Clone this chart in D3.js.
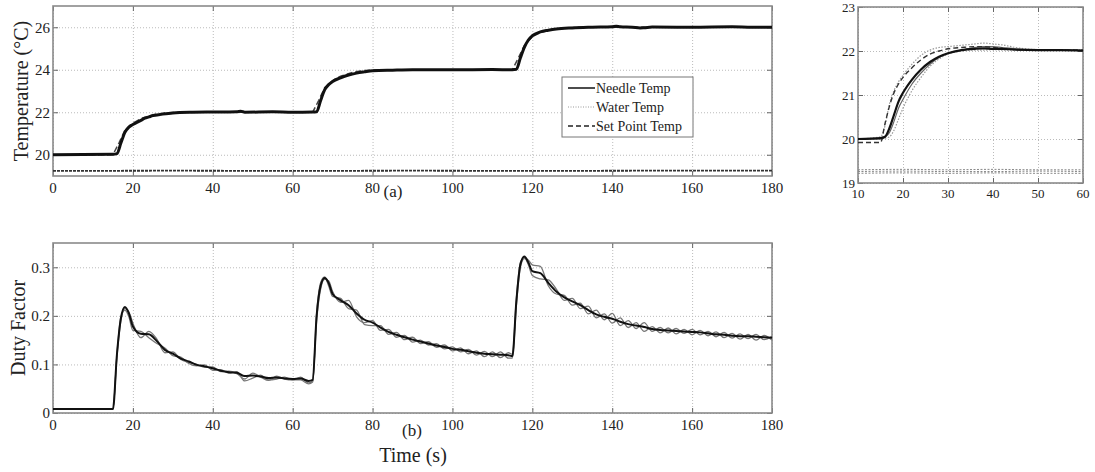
<!DOCTYPE html>
<html>
<head>
<meta charset="utf-8">
<script src="https://cdn.jsdelivr.net/npm/d3@7"></script>
<style>
  body { margin: 0; background: #fff; }
  text { font-family: "Liberation Serif", "DejaVu Serif", serif; fill: #222; }
  .grid line { stroke: #bbb; stroke-dasharray: 1,2; }
  .grid path { display: none; }
  .tick-in line { stroke: #666; }
  .tick-in path { display: none; }
</style>
</head>
<body>
<div id="chart"></div>
<script>
// ---- data: top panel (a) ----
var needleTime = [0, 15, 16, 17, 18, 19, 20, 21, 22, 23, 24, 25, 27, 30, 35, 40, 46, 47, 48, 55, 60, 65, 66,
  67, 68, 69, 70, 72, 74, 76, 78, 80, 85, 90, 100, 110, 115, 116,
  117, 118, 119, 120, 122, 124, 126, 130, 135, 140, 141, 142, 145, 147, 148, 150, 160, 170, 175, 180];
var needleTemp = [20.0, 20.02, 20.05, 20.55, 21.05, 21.3, 21.42, 21.52, 21.62, 21.72, 21.78, 21.84, 21.9, 21.97, 22.0, 22.01, 22.02, 22.05, 22.0, 22.02, 22.0, 22.01, 22.02,
  22.55, 23.05, 23.3, 23.45, 23.62, 23.75, 23.84, 23.9, 23.95, 23.98, 24.0, 24.0, 24.01, 24.0, 24.02,
  24.55, 25.05, 25.4, 25.6, 25.78, 25.86, 25.92, 25.97, 26.0, 26.02, 26.05, 26.02, 26.0, 25.97, 25.98, 26.01, 26.0, 26.02, 26.0, 26.0];

var setTime = [0, 15, 16.5, 18, 20, 22, 25, 28, 32, 65, 66.5, 68, 70, 72, 75, 78, 82, 115, 116.5, 118, 120, 122, 125, 128, 132, 180];
var setTemp = [20.0, 20.0, 20.55, 21.15, 21.48, 21.7, 21.88, 21.97, 22.0, 22.0, 22.55, 23.15, 23.48, 23.7, 23.88, 23.97, 24.0, 24.0, 24.55, 25.15, 25.55, 25.75, 25.9, 25.97, 26.0, 26.0];

var waterTime = [0, 30, 60, 90, 120, 150, 180];
var waterTemp = [19.24, 19.25, 19.24, 19.25, 19.24, 19.25, 19.25];

var legendLabels = ["Needle Temp", "Water Temp", "Set Point Temp"];

// ---- data: inset (repeated trials, 10-60 s) ----
var insetTime = [10, 15, 16, 17, 18, 19, 20, 22, 24, 26, 28, 30, 33, 36, 38, 40, 42, 45, 50, 55, 60];
var insetMean   = [20.0, 20.02, 20.05, 20.25, 20.55, 20.85, 21.05, 21.35, 21.58, 21.75, 21.87, 21.95, 22.02, 22.05, 22.06, 22.05, 22.05, 22.03, 22.02, 22.02, 22.01];
var insetSet    = [19.92, 19.92, 20.35, 20.75, 21.05, 21.25, 21.4, 21.62, 21.8, 21.93, 22.0, 22.05, 22.08, 22.1, 22.1, 22.08, 22.06, 22.03, 22.02, 22.02, 22.02];
var insetEarly  = [20.0, 20.05, 20.3, 20.8, 21.1, 21.3, 21.45, 21.7, 21.9, 22.02, 22.08, 22.1, 22.13, 22.16, 22.18, 22.16, 22.14, 22.08, 22.03, 22.02, 22.02];
var insetLate   = [20.0, 20.0, 20.02, 20.05, 20.2, 20.45, 20.7, 21.1, 21.4, 21.65, 21.82, 21.93, 22.0, 22.02, 22.02, 22.03, 22.02, 22.02, 22.02, 22.02, 22.02];
var insetMid    = [20.0, 20.0, 20.04, 20.15, 20.4, 20.7, 20.9, 21.25, 21.5, 21.7, 21.85, 21.95, 22.02, 22.08, 22.1, 22.1, 22.08, 22.05, 22.02, 22.02, 22.01];

var insetWaterTime = [10, 20, 30, 40, 50, 60];
var insetWaterA = [19.3, 19.31, 19.3, 19.31, 19.3, 19.3];
var insetWaterB = [19.26, 19.27, 19.26, 19.26, 19.27, 19.26];
var insetWaterC = [19.22, 19.23, 19.22, 19.23, 19.22, 19.22];

// ---- data: bottom panel (b) ----
var dutyTime = [0, 15, 16, 17, 18, 19, 20, 22, 24, 26, 28, 30, 32, 34, 36, 38, 40, 42, 44, 46, 48, 50, 52, 54, 56, 58, 60, 62, 64, 65,
  66, 67, 68, 69, 70, 72, 74, 76, 78, 80, 82, 84, 86, 88, 90, 92, 94, 96, 98, 100, 102, 104, 106, 108, 110, 112, 114, 115,
  116, 117, 118, 119, 120, 122, 124, 126, 128, 130, 132, 134, 136, 138, 140, 142, 144, 146, 148, 150, 152, 154, 156, 158, 160,
  162, 164, 166, 168, 170, 172, 174, 176, 178, 180];
var dutyMean = [0.008, 0.008, 0.12, 0.195, 0.218, 0.205, 0.178, 0.163, 0.162, 0.148, 0.13, 0.122, 0.112, 0.106, 0.099, 0.096, 0.092, 0.087, 0.084, 0.083, 0.076, 0.077, 0.075, 0.072, 0.073, 0.071, 0.07, 0.071, 0.066, 0.068,
  0.2, 0.262, 0.278, 0.268, 0.245, 0.232, 0.222, 0.205, 0.192, 0.186, 0.176, 0.167, 0.161, 0.156, 0.151, 0.147, 0.143, 0.139, 0.136, 0.132, 0.13, 0.127, 0.124, 0.122, 0.121, 0.12, 0.119, 0.117,
  0.23, 0.305, 0.322, 0.31, 0.292, 0.288, 0.268, 0.25, 0.238, 0.23, 0.222, 0.212, 0.203, 0.198, 0.194, 0.188, 0.183, 0.18, 0.177, 0.173, 0.171, 0.17, 0.169, 0.168, 0.167,
  0.166, 0.164, 0.162, 0.161, 0.159, 0.158, 0.158, 0.157, 0.156, 0.155];
var dutyTrialA = [0.008, 0.008, 0.115, 0.19, 0.215, 0.208, 0.185, 0.155, 0.168, 0.152, 0.124, 0.126, 0.11, 0.104, 0.1, 0.094, 0.095, 0.085, 0.086, 0.081, 0.07, 0.082, 0.074, 0.067, 0.076, 0.07, 0.068, 0.074, 0.062, 0.066,
  0.19, 0.255, 0.275, 0.272, 0.25, 0.228, 0.232, 0.198, 0.186, 0.19, 0.17, 0.172, 0.156, 0.16, 0.146, 0.15, 0.14, 0.143, 0.132, 0.136, 0.126, 0.131, 0.119, 0.127, 0.116, 0.126, 0.113, 0.113,
  0.22, 0.3, 0.318, 0.315, 0.305, 0.302, 0.262, 0.245, 0.242, 0.222, 0.226, 0.204, 0.212, 0.192, 0.205, 0.18, 0.19, 0.174, 0.186, 0.168, 0.176, 0.165, 0.174, 0.164, 0.172,
  0.161, 0.168, 0.157, 0.166, 0.154, 0.163, 0.153, 0.162, 0.151, 0.158];
var dutyTrialB = [0.008, 0.008, 0.12, 0.198, 0.212, 0.198, 0.17, 0.168, 0.155, 0.143, 0.134, 0.118, 0.115, 0.102, 0.097, 0.099, 0.088, 0.089, 0.082, 0.085, 0.066, 0.072, 0.078, 0.068, 0.07, 0.074, 0.068, 0.068, 0.06, 0.064,
  0.205, 0.268, 0.28, 0.262, 0.24, 0.236, 0.215, 0.212, 0.182, 0.18, 0.18, 0.162, 0.166, 0.151, 0.156, 0.143, 0.147, 0.135, 0.14, 0.128, 0.134, 0.122, 0.128, 0.116, 0.126, 0.114, 0.124, 0.121,
  0.235, 0.31, 0.32, 0.305, 0.283, 0.276, 0.274, 0.255, 0.232, 0.236, 0.215, 0.22, 0.196, 0.204, 0.185, 0.196, 0.176, 0.186, 0.168, 0.178, 0.165, 0.175, 0.163, 0.172, 0.161,
  0.17, 0.159, 0.167, 0.155, 0.164, 0.152, 0.162, 0.15, 0.16, 0.15];

var timeTicks = [0, 20, 40, 60, 80, 100, 120, 140, 160, 180];
var tempTicks = [20, 22, 24, 26];
var insetXTicks = [10, 20, 30, 40, 50, 60];
var insetYTicks = [19, 20, 21, 22, 23];
var dutyTicks = [0, 0.1, 0.2, 0.3];

// ---- svg ----
var svg = d3.select("#chart").append("svg")
  .attr("width", 1095)
  .attr("height", 472);

function zip(xs, ys) {
  return xs.map((x, i) => [x, ys[i]]);
}

// draw frame, grid, ticks for one panel
function drawPanel(g, x, y, xTicks, yTicks, w, h, fontSize, yFmt) {
  g.append("g").attr("class", "grid")
    .attr("transform", `translate(0, ${h})`)
    .call(d3.axisBottom(x).tickValues(xTicks).tickSize(-h).tickFormat(""));
  g.append("g").attr("class", "grid")
    .call(d3.axisLeft(y).tickValues(yTicks).tickSize(-w).tickFormat(""));

  // small inward ticks on all sides
  g.append("g").attr("class", "tick-in")
    .attr("transform", `translate(0, ${h})`)
    .call(d3.axisBottom(x).tickValues(xTicks).tickSize(-5).tickFormat(""));
  g.append("g").attr("class", "tick-in")
    .call(d3.axisTop(x).tickValues(xTicks).tickSize(-5).tickFormat(""));
  g.append("g").attr("class", "tick-in")
    .call(d3.axisLeft(y).tickValues(yTicks).tickSize(-5).tickFormat(""));
  g.append("g").attr("class", "tick-in")
    .attr("transform", `translate(${w}, 0)`)
    .call(d3.axisRight(y).tickValues(yTicks).tickSize(-5).tickFormat(""));

  // tick labels
  g.selectAll(".xl").data(xTicks).enter().append("text")
    .attr("x", d => x(d))
    .attr("y", h + fontSize + 2)
    .attr("text-anchor", "middle")
    .attr("font-size", fontSize)
    .text(d => d);
  g.selectAll(".yl").data(yTicks).enter().append("text")
    .attr("x", -3)
    .attr("y", d => y(d) + fontSize * 0.35)
    .attr("text-anchor", "end")
    .attr("font-size", fontSize)
    .text(yFmt);

  g.append("rect")
    .attr("width", w).attr("height", h)
    .attr("fill", "none")
    .attr("stroke", "#8a8a8a")
    .attr("stroke-width", 1.6);
}

// ---- panel (a) ----
var aLeft = 53, aTop = 6, aW = 719, aH = 170;
var ga = svg.append("g").attr("transform", `translate(${aLeft}, ${aTop})`);
var xA = d3.scaleLinear().domain([0, 180]).range([0, aW]);
var yA = d3.scaleLinear().domain([19, 27]).range([aH, 0]);

drawPanel(ga, xA, yA, timeTicks, tempTicks, aW, aH, 15, d => d);

var lineA = d3.line().x(d => xA(d[0])).y(d => yA(d[1]));

ga.append("path").datum(zip(waterTime, waterTemp))
  .attr("d", lineA).attr("fill", "none")
  .attr("stroke", "#333").attr("stroke-width", 1.8)
  .attr("stroke-dasharray", "3,1");
ga.append("path").datum(zip(setTime, setTemp))
  .attr("d", lineA).attr("fill", "none")
  .attr("stroke", "#444").attr("stroke-width", 1.5)
  .attr("stroke-dasharray", "6,3");
ga.append("path").datum(zip(needleTime, needleTemp))
  .attr("d", lineA.curve(d3.curveMonotoneX)).attr("fill", "none")
  .attr("stroke", "#111").attr("stroke-width", 3);

// legend
var leg = svg.append("g").attr("transform", "translate(562, 77)");
leg.append("rect").attr("width", 131).attr("height", 60)
  .attr("fill", "#fff").attr("stroke", "#777").attr("stroke-width", 1);
var legStyles = [
  { dash: null, color: "#111", width: 1.5 },
  { dash: "1,1.5", color: "#999", width: 1 },
  { dash: "5,3", color: "#222", width: 1.5 }
];
legendLabels.forEach(function(lbl, i) {
  var yy = 11 + i * 19;
  leg.append("line")
    .attr("x1", 6).attr("x2", 33).attr("y1", yy).attr("y2", yy)
    .attr("stroke", legStyles[i].color)
    .attr("stroke-width", legStyles[i].width)
    .attr("stroke-dasharray", legStyles[i].dash);
  leg.append("text")
    .attr("x", 34).attr("y", yy + 5)
    .attr("font-size", 14)
    .text(lbl);
});

svg.append("text")
  .attr("transform", "translate(28, 91) rotate(-90)")
  .attr("text-anchor", "middle")
  .attr("font-size", 20)
  .text("Temperature (\u00B0C)");
svg.append("text")
  .attr("x", 393).attr("y", 197)
  .attr("text-anchor", "middle")
  .attr("font-size", 17)
  .text("(a)");

// ---- inset ----
var iLeft = 858, iTop = 7, iW = 225, iH = 176;
var gi = svg.append("g").attr("transform", `translate(${iLeft}, ${iTop})`);
var xI = d3.scaleLinear().domain([10, 60]).range([0, iW]);
var yI = d3.scaleLinear().domain([19, 23]).range([iH, 0]);

drawPanel(gi, xI, yI, insetXTicks, insetYTicks, iW, iH, 13, d => d);

var lineI = d3.line().x(d => xI(d[0])).y(d => yI(d[1])).curve(d3.curveMonotoneX);
[insetWaterA, insetWaterB, insetWaterC].forEach(function(arr) {
  gi.append("path").datum(zip(insetWaterTime, arr))
    .attr("d", lineI).attr("fill", "none")
    .attr("stroke", "#888").attr("stroke-width", 1)
    .attr("stroke-dasharray", "2,1.5");
});
var insetSeries = [
  { v: insetEarly, color: "#999", width: 1.2, dash: "1.5,1.5" },
  { v: insetLate, color: "#999", width: 1.2, dash: "1.5,1.5" },
  { v: insetMid, color: "#666", width: 1.2, dash: null },
  { v: insetSet, color: "#333", width: 1.4, dash: "5,3" },
  { v: insetMean, color: "#111", width: 2.2, dash: null }
];
insetSeries.forEach(function(s) {
  gi.append("path").datum(zip(insetTime, s.v))
    .attr("d", lineI).attr("fill", "none")
    .attr("stroke", s.color).attr("stroke-width", s.width)
    .attr("stroke-dasharray", s.dash);
});

// ---- panel (b) ----
var bLeft = 53, bTop = 243, bW = 719, bH = 170;
var gb = svg.append("g").attr("transform", `translate(${bLeft}, ${bTop})`);
var xB = d3.scaleLinear().domain([0, 180]).range([0, bW]);
var yB = d3.scaleLinear().domain([0, 0.35]).range([bH, 0]);

drawPanel(gb, xB, yB, timeTicks, dutyTicks, bW, bH, 15, d => d === 0 ? "0" : d3.format(".1f")(d));

var lineB = d3.line().x(d => xB(d[0])).y(d => yB(d[1])).curve(d3.curveMonotoneX);
[dutyTrialA, dutyTrialB].forEach(function(arr) {
  gb.append("path").datum(zip(dutyTime, arr))
    .attr("d", lineB).attr("fill", "none")
    .attr("stroke", "#777").attr("stroke-width", 1.3);
});
gb.append("path").datum(zip(dutyTime, dutyMean))
  .attr("d", lineB).attr("fill", "none")
  .attr("stroke", "#111").attr("stroke-width", 2);

svg.append("text")
  .attr("transform", "translate(25, 328) rotate(-90)")
  .attr("text-anchor", "middle")
  .attr("font-size", 20)
  .text("Duty Factor");
svg.append("text")
  .attr("x", 412).attr("y", 436)
  .attr("text-anchor", "middle")
  .attr("font-size", 17)
  .text("(b)");
svg.append("text")
  .attr("x", 413).attr("y", 462)
  .attr("text-anchor", "middle")
  .attr("font-size", 20)
  .text("Time (s)");
</script>
</body>
</html>
